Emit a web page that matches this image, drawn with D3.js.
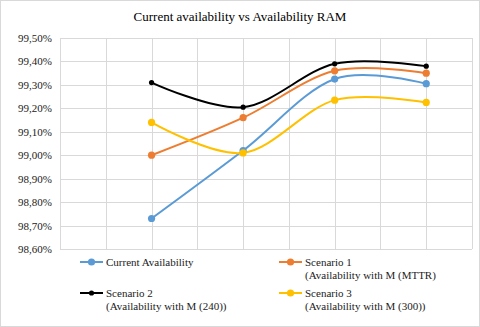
<!DOCTYPE html>
<html>
<head>
<meta charset="utf-8">
<script src="https://cdn.jsdelivr.net/npm/d3@7"></script>
<style>
    body { margin: 0; background: #fff; }
    svg text { font-family: "Liberation Serif", "Times New Roman", serif; }
</style>
</head>
<body>
<div id="chart"></div>
<script>
// category slots on the x axis (points sit on gridlines 2, 4, 6, 8)
var xSlots = [2, 4, 6, 8];
var currentAvail = [98.73, 99.02, 99.325, 99.305];
var scenario1 = [99.00, 99.16, 99.36, 99.35];
var scenario2 = [99.31, 99.205, 99.39, 99.38];
var scenario3 = [99.14, 99.01, 99.235, 99.225];
var yTicks = [98.6, 98.7, 98.8, 98.9, 99.0, 99.1, 99.2, 99.3, 99.4, 99.5];

var seriesList = [
    { name: "Current Availability", sub: null, values: currentAvail, color: "#5B9BD5", r: 3.6 },
    { name: "Scenario 1", sub: "(Availability with M (MTTR)", values: scenario1, color: "#ED7D31", r: 3.6 },
    { name: "Scenario 2", sub: "(Availability with M (240))", values: scenario2, color: "#000000", r: 2.6 },
    { name: "Scenario 3", sub: "(Availability with M (300))", values: scenario3, color: "#FFC000", r: 3.6 }
];

var serif = "'Liberation Serif', 'Times New Roman', serif";
var width = 480,
    height = 327;
var margin = { left: 60, right: 8, top: 38, bottom: 78 };

var svg = d3.select("#chart").append("svg").attr("width", width).attr("height", height);

// outer chart border
svg.append("rect")
    .attr("x", 0.5).attr("y", 0.5)
    .attr("width", width - 1).attr("height", height - 1)
    .attr("fill", "#fff")
    .attr("stroke", "#D9D9D9");

svg.append("text")
    .attr("x", 240).attr("y", 21)
    .attr("text-anchor", "middle")
    .attr("font-family", serif)
    .attr("font-size", "13px")
    .attr("fill", "#000")
    .text("Current availability vs Availability RAM");

var x = d3.scaleLinear().domain([0, 9]).range([margin.left, width - margin.right]);
var y = d3.scaleLinear().domain([98.6, 99.5]).range([height - margin.bottom, margin.top]);

// gridlines
var grid = svg.append("g").attr("stroke", "#D9D9D9").attr("stroke-width", 1);
grid.selectAll(".hgrid")
    .data(yTicks)
    .join("line")
    .attr("x1", x(0)).attr("x2", x(9))
    .attr("y1", d => Math.round(y(d)) + 0.5)
    .attr("y2", d => Math.round(y(d)) + 0.5);
grid.selectAll(".vgrid")
    .data(d3.range(0, 10))
    .join("line")
    .attr("y1", y(98.6)).attr("y2", y(99.5))
    .attr("x1", d => Math.round(x(d)) + 0.5)
    .attr("x2", d => Math.round(x(d)) + 0.5);

// y axis labels (comma decimal)
var fmt = d => d3.format(".2f")(d).replace(".", ",") + "%";
var yAxis = d3.axisLeft(y).tickValues(yTicks).tickSize(0).tickPadding(8).tickFormat(fmt);
svg.append("g")
    .attr("transform", "translate(" + margin.left + ",0)")
    .call(yAxis)
    .attr("font-family", serif)
    .attr("font-size", 11)
    .call(g => g.select(".domain").remove())
    .call(g => g.selectAll("text").attr("fill", "#222"));

var line = d3.line()
    .x((d, i) => x(xSlots[i]))
    .y(d => y(d))
    .curve(d3.curveCardinal.tension(0));

var plot = svg.append("g");
seriesList.forEach(function (s) {
    plot.append("path")
        .datum(s.values)
        .attr("fill", "none")
        .attr("stroke", s.color)
        .attr("stroke-width", 2)
        .attr("d", line);
});
seriesList.forEach(function (s) {
    plot.selectAll(null)
        .data(s.values)
        .join("circle")
        .attr("cx", (d, i) => x(xSlots[i]))
        .attr("cy", d => y(d))
        .attr("r", s.r)
        .attr("fill", s.color);
});

// legend
var legendPos = [[80, 262], [279, 262], [80, 293], [279, 293]];
seriesList.forEach(function (s, i) {
    var g = svg.append("g")
        .attr("transform", "translate(" + legendPos[i][0] + "," + legendPos[i][1] + ")")
        .attr("font-family", serif)
        .attr("font-size", 11)
        .attr("fill", "#222");
    g.append("line")
        .attr("x1", 0).attr("x2", 23)
        .attr("stroke", s.color).attr("stroke-width", 2);
    g.append("circle").attr("cx", 11.5).attr("r", s.r).attr("fill", s.color);
    g.append("text")
        .attr("x", 26).attr("y", 4)
        .text(s.name);
    if (s.sub) {
        g.append("text")
            .attr("x", 26).attr("y", 17)
            .text(s.sub);
    }
});
</script>
</body>
</html>
